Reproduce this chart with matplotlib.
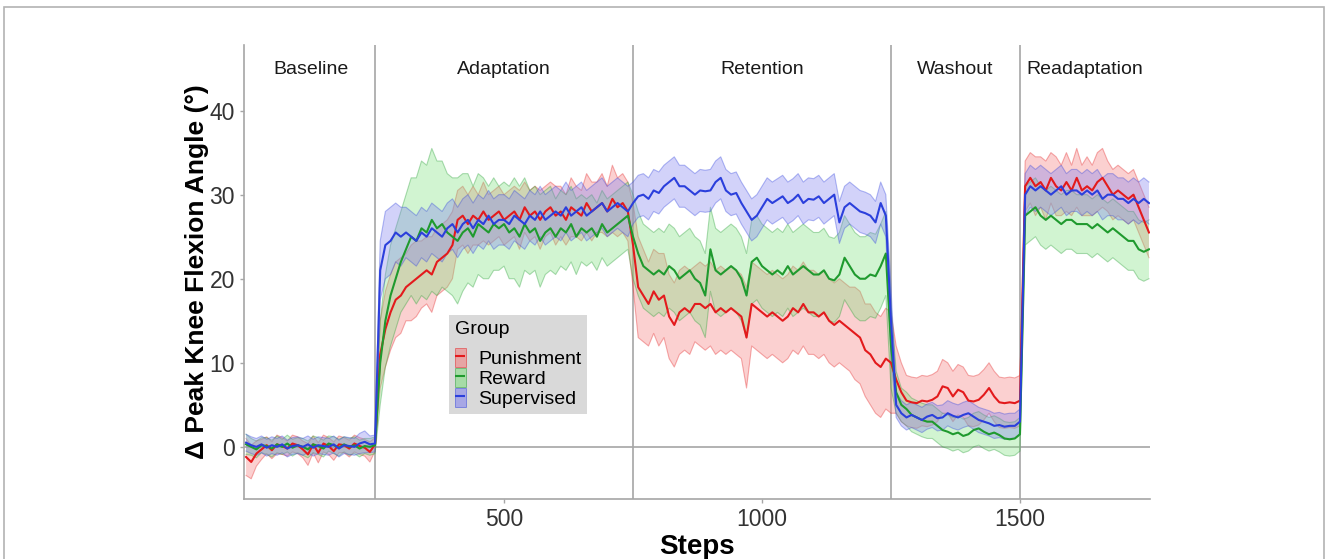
import numpy as np
import matplotlib
matplotlib.use("Agg")
import matplotlib.pyplot as plt
from matplotlib.patches import Patch, Rectangle
from matplotlib.lines import Line2D
from matplotlib.legend_handler import HandlerTuple

plt.rcParams['font.family'] = ['Liberation Sans', 'DejaVu Sans']

# ---------------- data (every 10 steps, 0..1750) ----------------
steps = list(range(0, 1751, 10))

punish_mean = [
    -1.2, -1.8, -0.8, -0.3, 0.2, -0.4, 0.3, 0.1, -0.2, 0.4, 0.2, -0.3, -0.9, 0.3, -0.7, 0.4, 0.1, -0.5, 0.3, 0.2, -0.2, 0.4, 0.1, -0.1, -0.6,
    0.3, 11, 14, 16, 17.5, 18, 19, 19.5, 20, 20.5, 21, 20.5, 22, 22.5, 23, 24, 27, 27.5, 26.5, 27.5, 27, 28, 27, 27.5, 28,
    27, 27.5, 28, 27, 28.5, 27.5, 28, 27, 28, 28.5, 27.5, 28, 27, 28.5, 28, 27.5, 29, 28, 28.5, 29, 28, 29.5, 28.5, 29, 28,
    24, 19, 18, 17, 18.5, 17.5, 18, 15.5, 14.5, 16, 16.5, 16, 17, 17, 16.5, 17, 16, 16.5, 16, 16.5, 16, 15.5, 13, 17, 16.5,
    16, 15.5, 16, 15.5, 15, 15.5, 16.5, 16, 17, 16, 16, 15.5, 16, 15, 14.5, 15, 14.5, 14, 13.5, 13, 11.5, 11, 10, 9.5, 10.5,
    10, 8, 6.5, 5.5, 5.3, 5.2, 5.5, 5.4, 5.6, 6, 7.2, 7, 6, 6.8, 6.5, 5.5, 5.4, 5.6, 6.2, 7, 6, 5.3, 5.2, 5.3, 5.2,
    5.5, 31, 32, 31, 31.5, 30.5, 32, 31, 30.5, 31.5, 30.5, 32, 30.5, 31, 30.5, 31.5, 32, 31, 30, 30.5, 30, 29.5, 30, 28.5, 27, 25.5,
]
punish_half = [
    2.2, 2.0, 1.5, 1.2, 1.0, 1.0, 1.1, 1.0, 0.9, 1.0, 1.0, 1.0, 1.3, 1.0, 1.2, 1.0, 1.0, 1.1, 1.0, 0.9, 1.0, 1.0, 1.0, 1.0, 1.2,
    0.8, 4, 4.5, 4.5, 4.5, 4.5, 4, 4.5, 4.5, 4, 4, 4.5, 4, 4, 4, 4, 3.5, 3.5, 3.5, 3.5, 3, 3.5, 3, 3, 3,
    3, 3, 3, 3.5, 3, 3, 3, 3.5, 3, 3, 3.5, 3, 3, 3.5, 3, 3, 3.5, 3.5, 3, 3.5, 3, 4, 3.5, 3.5, 3.5,
    5, 6, 5.5, 5, 5, 5.5, 5, 5, 5, 5, 5, 5, 4.5, 5, 5, 5, 5, 5, 5, 5, 5, 5, 6, 5, 5,
    5, 5, 5, 5, 5, 5, 5, 5, 5, 5, 5, 5, 5, 5, 5, 5, 5, 5, 5.5, 5.5, 5.5, 6, 6, 6, 6,
    6, 4, 3.5, 3, 3, 3, 3, 3, 3, 3, 3.2, 3, 3, 3, 3, 3, 3, 3, 3, 3, 3, 3, 3, 3, 3,
    3, 3, 3, 3.5, 3, 3.5, 3, 3.5, 3, 3.5, 3, 3.5, 3, 3.5, 3, 3.5, 3.5, 3, 3, 3, 3, 3, 3, 3, 3, 3,
]

reward_mean = [
    0.3, 0.0, -0.3, 0.2, 0.1, -0.2, 0.3, 0.0, 0.4, -0.1, 0.2, 0.0, -0.3, 0.3, 0.1, -0.2, 0.4, 0.2, -0.1, 0.3, 0.0, 0.2, -0.2, 0.1, 0.0,
    0.2, 10, 15, 18, 20, 22, 23.5, 25, 24.5, 26, 25.5, 27, 26, 26.5, 25.5, 25, 24.5, 25.5, 26, 25, 26.5, 26, 25.5, 26.5, 26,
    26.5, 25.5, 26, 25, 26.5, 25.5, 26, 24.5, 25.5, 26, 25, 26, 25.5, 26.5, 25, 26, 25.5, 26, 25, 26.5, 25.5, 26, 26.5, 27, 27.5,
    25, 23, 21.5, 21, 20.5, 21, 20.5, 21.5, 21, 20, 20.5, 21, 20, 19.5, 18, 23.5, 21, 20.5, 21, 21.5, 21, 20, 18, 22, 22.5,
    21.5, 21, 20.5, 21, 20.5, 21.5, 20.5, 21, 21.5, 21, 20.5, 20.5, 21, 20, 19.8, 20.5, 22.5, 21.5, 20.5, 20, 20, 20.5, 20.3, 21.5, 23,
    12, 6.5, 5, 4.5, 3.8, 3.5, 3.2, 3, 3, 2.5, 2, 1.8, 1.5, 1.7, 1.3, 1.5, 2, 2.2, 1.8, 1.5, 1.7, 1.4, 1.0, 0.9, 1.0,
    1.5, 27.5, 28, 28.5, 27.5, 27, 27.5, 27, 26.5, 27, 27, 26.5, 26.5, 26.5, 26, 26.5, 26, 25.5, 26, 25.5, 25, 24.5, 24.5, 23.5, 23.2, 23.5,
]
reward_half = [
    1.2, 1.0, 1.0, 0.9, 1.0, 1.0, 1.0, 0.9, 1.0, 1.0, 0.9, 1.0, 1.0, 1.0, 1.0, 1.0, 0.9, 1.0, 1.0, 0.9, 1.0, 1.0, 1.0, 0.9, 1.0,
    1.0, 5, 5.5, 6, 6, 6, 6.5, 7, 7.5, 8, 8, 8.5, 8, 7.5, 7, 7, 7.5, 7, 6.5, 6, 6, 6, 5.5, 5.5, 5,
    5, 5.5, 6, 6, 5.5, 5, 5, 5.5, 5, 5, 4.5, 4.5, 4.5, 4.5, 4.5, 4, 4, 4, 4, 4, 4, 4, 4, 4, 4,
    5, 5, 5, 5, 5, 5, 5, 5, 5, 5, 5, 5, 5, 5, 5, 5, 5, 5, 5, 5, 5, 5, 5, 5, 5,
    5, 5, 5, 5, 5, 5, 5, 5, 5, 5, 5, 5, 5, 5, 5, 5, 5, 5, 5, 5, 5, 5, 5, 5, 5,
    5, 2.5, 2, 2, 2, 2, 2, 2, 2, 2, 2, 2, 2, 2, 2, 2, 2, 2, 2, 2, 2, 2, 2, 2, 2,
    2, 3.5, 3.5, 3.5, 3.5, 3.5, 3.5, 3.5, 3.5, 3.5, 3.5, 3.5, 3.5, 3.5, 3.5, 3.5, 3.5, 3.5, 3.5, 3.5, 3.5, 3.5, 3.5, 3.5, 3.5, 3.5,
]

superv_mean = [
    0.5, 0.2, 0.0, 0.3, -0.1, 0.2, 0.0, 0.3, -0.2, 0.1, 0.2, 0.0, 0.3, -0.1, 0.2, 0.1, 0.0, 0.3, -0.2, 0.2, 0.1, 0.0, 0.4, 0.6, 0.3,
    0.4, 21, 24, 24.5, 25.5, 25, 25.5, 25, 24.5, 25.5, 25, 26, 25.5, 25, 26, 26.5, 25.5, 26.5, 27, 26, 27, 26.5, 27.5, 26.5, 27,
    27, 26.5, 27.5, 27, 26.5, 27.5, 27, 28, 27, 27.5, 28, 27.5, 28.5, 27.5, 28, 28.5, 27.5, 28, 28.5, 29, 28, 28.5, 29, 28.5, 28,
    29, 29.8, 30, 29.5, 30.5, 30.2, 31, 31.5, 32, 31, 31, 30.5, 30, 30.5, 30.4, 30.5, 31.5, 32, 30.5, 30, 30.2, 29, 28, 27, 27.5,
    28.5, 29.5, 29, 29.4, 29.8, 29, 29.4, 30, 29, 29.5, 29.4, 29.8, 29, 29.5, 30, 26.7, 28.5, 29, 28.5, 28, 27.8, 27.5, 26.7, 29, 27.5,
    15, 5, 4, 3.5, 3.8, 3.5, 3.2, 3.6, 3.8, 3.4, 3.5, 4, 3.7, 3.5, 3.8, 4, 3.6, 3.2, 3.0, 2.8, 2.5, 2.6, 2.4, 2.5, 2.5,
    3.0, 30, 31, 30.5, 31, 30.5, 30, 30.5, 31, 30, 30.5, 30.5, 30, 30.5, 30, 30.5, 29.5, 30, 30, 29.5, 29.5, 29, 29.5, 29, 29.5, 29,
]
superv_half = [
    1.0, 1.0, 1.0, 1.0, 1.0, 1.0, 1.0, 1.0, 1.0, 1.0, 1.0, 1.0, 1.0, 1.0, 1.0, 1.0, 1.0, 1.0, 1.0, 1.0, 1.0, 1.0, 1.2, 1.3, 1.0,
    1.0, 3.5, 4, 4, 3.5, 3.5, 3, 3, 3, 3, 3, 3, 3, 3, 3, 3, 3, 3, 3, 3, 3, 3, 3, 3, 3,
    3, 3, 3, 3, 3, 3, 3, 3, 3, 3, 3, 3, 3, 3, 3, 3, 3, 3, 3, 3, 3, 3, 3, 3, 3,
    2.5, 2.5, 2.5, 2.5, 2.5, 2.5, 2.5, 2.5, 2.5, 2.5, 2.5, 2.5, 2.5, 2.5, 2.5, 2.5, 2.5, 2.5, 2.5, 2.5, 2.5, 2.5, 2.5, 2.5, 2.5,
    2.5, 2.5, 2.5, 2.5, 2.5, 2.5, 2.5, 2.5, 2.5, 2.5, 2.5, 2.5, 2.5, 2.5, 2.5, 2.5, 2.5, 2.5, 2.5, 2.5, 2.5, 2.5, 2.5, 2.5, 2.5,
    4, 1.5, 1.5, 1.5, 1.5, 1.5, 1.5, 1.5, 1.5, 1.5, 1.5, 1.5, 1.5, 1.5, 1.5, 1.5, 1.5, 1.5, 1.5, 1.5, 1.5, 1.5, 1.5, 1.5, 1.5,
    1.5, 2.5, 2.5, 2.5, 2.5, 2.5, 2.5, 2.5, 2.5, 2.5, 2.5, 2.5, 2.5, 2.5, 2.5, 2.5, 2.5, 2.5, 2.5, 2.5, 2.5, 2.5, 2.5, 2.5, 2.5, 2.5,
]

groups = ["Punishment", "Reward", "Supervised"]
phase_names = ["Baseline", "Adaptation", "Retention", "Washout", "Readaptation"]
phase_bounds = [0, 250, 750, 1250, 1500, 1750]
x_ticks = [500, 1000, 1500]
y_ticks = [0, 10, 20, 30, 40]

# ---------------- figure ----------------
fig = plt.figure(figsize=(13.28, 5.59), dpi=100)
ax = fig.add_axes([244 / 1328, 1 - 499 / 559, (1150 - 244) / 1328, (499 - 45) / 559])

line_colors = ["#e31a1c", "#1f9a2e", "#2b3fdc"]
fill_colors = ["#f47a7a", "#7de07d", "#7f7ff0"]
means = [punish_mean, reward_mean, superv_mean]
halves = [punish_half, reward_half, superv_half]

x = np.array(steps)
handles = []
for name, m, h, lc, fc in zip(groups, means, halves, line_colors, fill_colors):
    m = np.array(m)
    h = np.array(h)
    ax.fill_between(x, m - h, m + h, facecolor=fc, alpha=0.35, edgecolor="none", zorder=2)
    ax.plot(x, m - h, color=lc, alpha=0.35, lw=0.8, zorder=2)
    ax.plot(x, m + h, color=lc, alpha=0.35, lw=0.8, zorder=2)
    ax.plot(x, m, color=lc, lw=1.5, zorder=3)
    handles.append((Patch(facecolor=fc, alpha=0.55, edgecolor=lc, linewidth=0.6),
                    Line2D([0], [0], color=lc, linestyle="none", marker="_",
                           markersize=7, markeredgewidth=1.5)))

for b in phase_bounds[1:-1]:
    ax.axvline(b, color="#a6a6a6", lw=1.2, zorder=1)
ax.axhline(0, color="#a6a6a6", lw=1.2, zorder=1)

for name, a, b in zip(phase_names, phase_bounds[:-1], phase_bounds[1:]):
    ax.text((a + b) / 2, 44.9, name, ha="center", va="center", fontsize=14, color="#1a1a1a")

ax.set_xlim(-4, 1752)
ax.set_ylim(-6.2, 47.8)
ax.set_xticks(x_ticks)
ax.set_yticks(y_ticks)
ax.tick_params(axis="both", labelsize=16.5, colors="#a6a6a6", labelcolor="#333333", length=3, width=1)

for s in ["top", "right"]:
    ax.spines[s].set_visible(False)
for s in ["left", "bottom"]:
    ax.spines[s].set_color("#a6a6a6")
    ax.spines[s].set_linewidth(1.2)

ax.set_xlabel("Steps", fontsize=20, fontweight="bold", labelpad=2)
ax.set_ylabel("Δ Peak Knee Flexion Angle (°)", fontsize=19, fontweight="bold", labelpad=0)

leg = ax.legend(handles, groups, title="Group", loc="upper left",
                bbox_to_anchor=((449 - 244) / 906, (499 - 315) / 454),
                handler_map={tuple: HandlerTuple(ndivide=1, pad=0)},
                fontsize=14, title_fontsize=14, frameon=True, fancybox=False,
                handlelength=0.55, handleheight=1.15, labelspacing=0.0,
                handletextpad=0.65, borderpad=0.3, borderaxespad=0)
leg.get_frame().set_facecolor("#d9d9d9")
leg.get_frame().set_edgecolor("none")
leg.get_frame().set_alpha(1)
leg._legend_box.align = "left"
leg._legend_box.sep = 7

fig.add_artist(Rectangle((4 / 1328, -0.1), 1320 / 1328, 1.1 - 7 / 559,
                         transform=fig.transFigure, fill=False,
                         edgecolor="#b3b3b3", lw=1.2))

fig.savefig("out.png", dpi=100)
